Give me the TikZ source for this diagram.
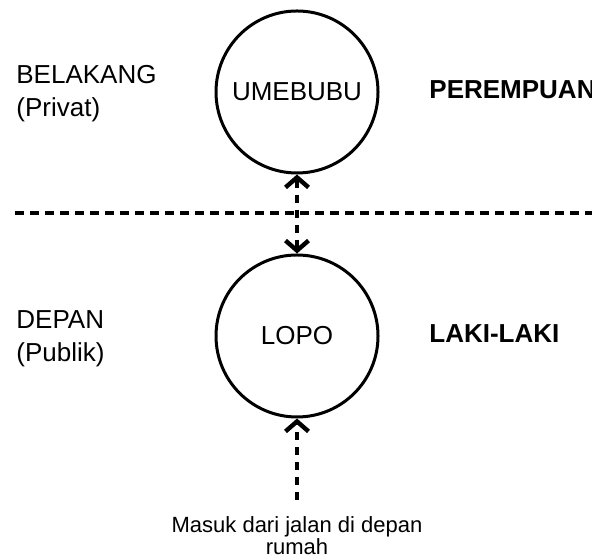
\documentclass[tikz,border=0pt]{standalone}
\usepackage{fontspec}
\setmainfont{Liberation Sans}
\usetikzlibrary{arrows.meta,positioning}

\begin{document}
\begin{tikzpicture}[x=0.5pt,y=0.5pt,
  room/.style={circle,draw,line width=1.5pt,minimum size=81pt,inner sep=0pt,font=\fontsize{13}{16}\selectfont},
  side/.style={anchor=base west,align=left,inner sep=0pt,font=\fontsize{13}{16.5}\selectfont},
  who/.style={anchor=base west,inner sep=0pt,font=\fontsize{13}{16}\selectfont\bfseries},
  divider/.style={line width=2.2pt,dash pattern=on 4.5pt off 3pt},
  flow/.style={line width=2.2pt,dash pattern=on 4pt off 3.5pt},
  barb/.tip={Straight Barb[length=5pt,width=11.5pt]}]
\clip (0,0) rectangle (592,560);

% Draw rooms
\node[room] (umebubu) at (297,468) {UMEBUBU};
\node[room] (lopo) at (297,224) {LOPO};

% Draw labels (base is the last line)
\node[side] (belakang) at (16,443) {BELAKANG\\(Privat)};
\node[side] (depan) at (16,198) {DEPAN\\(Publik)};
\node[who] (perempuan) at (429,461) {PEREMPUAN};
\node[who] (laki) at (429,217) {LAKI-LAKI};
\node[anchor=base,align=center,inner sep=0pt,font=\fontsize{11}{11.2}\selectfont] (masuk) at (297,5) {Masuk dari jalan di depan\\rumah};

% Draw divider between back and front
\draw[divider] (15,347) -- (600,347);

% Draw paths
\coordinate (jalan) at (297,60);
\draw[flow,barb-barb] (umebubu) -- (lopo);
\draw[flow,-barb] (jalan) -- (lopo);
\end{tikzpicture}
\end{document}
